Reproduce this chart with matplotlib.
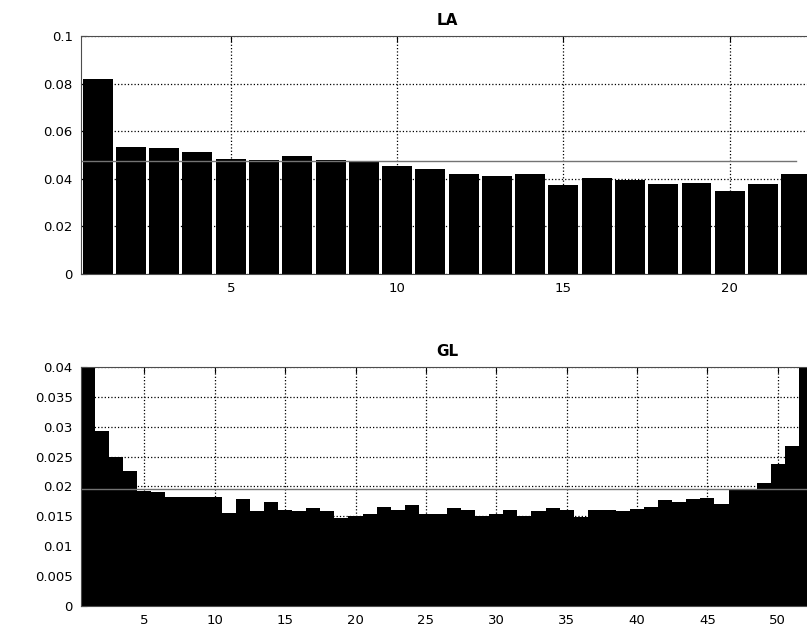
import numpy as np
import matplotlib.pyplot as plt

# LA histogram (22 bins)
la_vals = [0.0818, 0.0535, 0.0529, 0.0513, 0.0485, 0.0480, 0.0497, 0.0480, 0.0472, 0.0452,
           0.0443, 0.0422, 0.0410, 0.0422, 0.0373, 0.0405, 0.0394, 0.0378, 0.0384, 0.0350,
           0.0378, 0.0422]
la_ref = 1 / 21
la_yticks = [0, 0.02, 0.04, 0.06, 0.08, 0.1]
la_ylabels = ['0', '0.02', '0.04', '0.06', '0.08', '0.1']
la_xticks = [5, 10, 15, 20]

# GL histogram (52 bins)
gl_vals = [0.047, 0.0293, 0.0250, 0.0226, 0.0193, 0.0190, 0.0182, 0.0182, 0.0182, 0.0183,
           0.0156, 0.0179, 0.0158, 0.0173, 0.0160, 0.0158, 0.0164, 0.0158, 0.0147, 0.0150,
           0.0153, 0.0166, 0.0160, 0.0168, 0.0153, 0.0153, 0.0164, 0.0161, 0.0151, 0.0153,
           0.0161, 0.0151, 0.0158, 0.0164, 0.0160, 0.0149, 0.0160, 0.0161, 0.0158, 0.0162,
           0.0166, 0.0177, 0.0173, 0.0179, 0.0181, 0.0171, 0.0195, 0.0195, 0.0205, 0.0237,
           0.0268, 0.047]
gl_ref = 1 / 51
gl_yticks = [0, 0.005, 0.01, 0.015, 0.02, 0.025, 0.03, 0.035, 0.04]
gl_ylabels = ['0', '0.005', '0.01', '0.015', '0.02', '0.025', '0.03', '0.035', '0.04']
gl_xticks = [5, 10, 15, 20, 25, 30, 35, 40, 45, 50]

fig = plt.figure(figsize=(8.07, 6.28), dpi=100)
ax1 = fig.add_axes([0.1004, 0.5637, 0.907, 0.379])
ax2 = fig.add_axes([0.1004, 0.0355, 0.907, 0.380])


def style(ax, title, yticks, ylabels, xticks):
    ax.set_axisbelow(True)
    ax.grid(True, linestyle=':', color='black', linewidth=0.9)
    ax.set_yticks(yticks)
    ax.set_yticklabels(ylabels)
    ax.set_xticks(xticks)
    ax.tick_params(direction='in', top=True, right=True, labelsize=9.5, length=4, pad=6)
    ax.set_title(title, fontsize=11, fontweight='bold', pad=8)
    for s in ax.spines.values():
        s.set_color('0.3')


n1 = len(la_vals)
x1 = np.arange(1, n1 + 1)
ax1.bar(x1, la_vals, width=0.9, color='black')
ax1.plot([0, n1], [la_ref, la_ref], color='0.45', linewidth=1)
ax1.set_xlim(0.5, n1 + 0.5)
ax1.set_ylim(0, 0.1)
style(ax1, 'LA', la_yticks, la_ylabels, la_xticks)

n2 = len(gl_vals)
x2 = np.arange(1, n2 + 1)
ax2.bar(x2, gl_vals, width=1.0, color='black')
ax2.plot([0, n2], [gl_ref, gl_ref], color='0.45', linewidth=1)
ax2.set_xlim(0.5, n2 + 0.5)
ax2.set_ylim(0, 0.04)
style(ax2, 'GL', gl_yticks, gl_ylabels, gl_xticks)

fig.savefig('out.png', dpi=100)
